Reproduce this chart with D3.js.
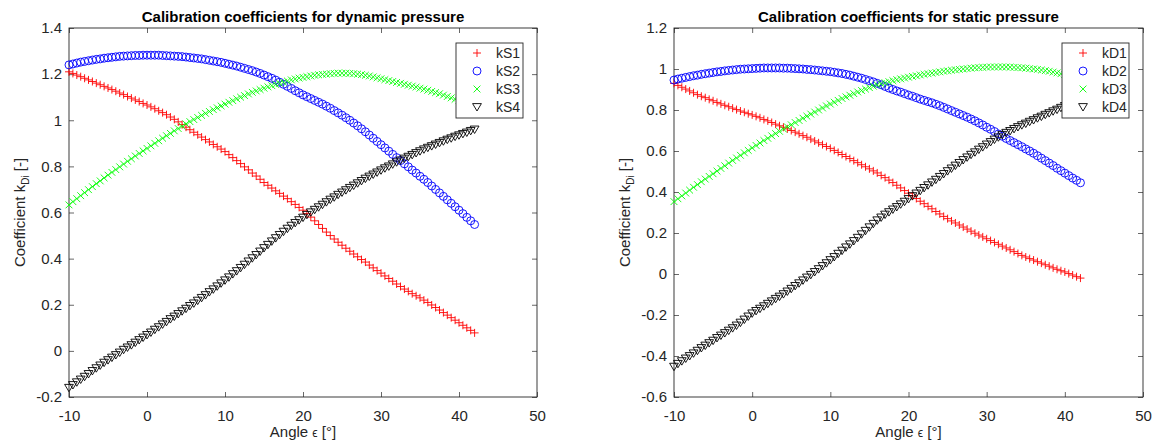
<!DOCTYPE html>
<html>
<head>
<meta charset="utf-8">
<script src="https://cdn.jsdelivr.net/npm/d3@7"></script>
<style>
  body { margin: 0; background: #fff; }
  text { font-family: "Liberation Sans", Arial, sans-serif; fill: #262626; }
</style>
</head>
<body>
<svg width="1156" height="448"></svg>
<script>
const width = 1156;
const height = 448;
const svg = d3.select("svg").attr("width", width).attr("height", height);

// measured angles [deg]
const angles = [
  -10, -9.5, -9, -8.5, -8, -7.5, -7, -6.5, -6, -5.5,
  -5, -4.5, -4, -3.5, -3, -2.5, -2, -1.5, -1, -0.5,
  0, 0.5, 1, 1.5, 2, 2.5, 3, 3.5, 4, 4.5,
  5, 5.5, 6, 6.5, 7, 7.5, 8, 8.5, 9, 9.5,
  10, 10.5, 11, 11.5, 12, 12.5, 13, 13.5, 14, 14.5,
  15, 15.5, 16, 16.5, 17, 17.5, 18, 18.5, 19, 19.5,
  20, 20.5, 21, 21.5, 22, 22.5, 23, 23.5, 24, 24.5,
  25, 25.5, 26, 26.5, 27, 27.5, 28, 28.5, 29, 29.5,
  30, 30.5, 31, 31.5, 32, 32.5, 33, 33.5, 34, 34.5,
  35, 35.5, 36, 36.5, 37, 37.5, 38, 38.5, 39, 39.5,
  40, 40.5, 41, 41.5, 42
];

// dynamic pressure coefficients
const kS1 = [
  1.210, 1.203, 1.196, 1.189, 1.182, 1.175, 1.168, 1.161, 1.154, 1.147,
  1.140, 1.133, 1.126, 1.118, 1.111, 1.103, 1.096, 1.088, 1.081, 1.073,
  1.066, 1.058, 1.050, 1.041, 1.033, 1.024, 1.014, 1.004, 0.993, 0.981,
  0.970, 0.959, 0.948, 0.937, 0.927, 0.916, 0.906, 0.895, 0.885, 0.875,
  0.864, 0.851, 0.838, 0.825, 0.812, 0.798, 0.785, 0.771, 0.758, 0.744,
  0.730, 0.718, 0.706, 0.694, 0.683, 0.671, 0.660, 0.647, 0.635, 0.622,
  0.610, 0.595, 0.580, 0.564, 0.548, 0.531, 0.515, 0.500, 0.485, 0.471,
  0.458, 0.445, 0.432, 0.420, 0.408, 0.396, 0.385, 0.372, 0.360, 0.348,
  0.337, 0.325, 0.314, 0.302, 0.290, 0.279, 0.268, 0.258, 0.248, 0.239,
  0.230, 0.220, 0.210, 0.199, 0.188, 0.177, 0.166, 0.155, 0.144, 0.133,
  0.122, 0.111, 0.100, 0.089, 0.078
];
const kS2 = [
  1.240, 1.244, 1.248, 1.252, 1.255, 1.258, 1.261, 1.264, 1.266, 1.269,
  1.271, 1.273, 1.275, 1.277, 1.278, 1.279, 1.280, 1.281, 1.281, 1.282,
  1.282, 1.282, 1.282, 1.282, 1.281, 1.280, 1.279, 1.278, 1.277, 1.276,
  1.274, 1.272, 1.270, 1.268, 1.266, 1.263, 1.260, 1.257, 1.254, 1.251,
  1.247, 1.243, 1.239, 1.235, 1.230, 1.225, 1.220, 1.215, 1.209, 1.203,
  1.196, 1.189, 1.182, 1.174, 1.165, 1.156, 1.147, 1.138, 1.128, 1.119,
  1.110, 1.102, 1.094, 1.086, 1.078, 1.070, 1.061, 1.052, 1.042, 1.032,
  1.022, 1.011, 1.000, 0.988, 0.976, 0.963, 0.950, 0.936, 0.922, 0.908,
  0.894, 0.880, 0.866, 0.852, 0.838, 0.825, 0.811, 0.798, 0.784, 0.771,
  0.757, 0.744, 0.730, 0.715, 0.700, 0.685, 0.670, 0.655, 0.640, 0.625,
  0.610, 0.595, 0.579, 0.564, 0.548
];
const kS3 = [
  0.633, 0.647, 0.660, 0.673, 0.686, 0.699, 0.712, 0.725, 0.737, 0.750,
  0.762, 0.774, 0.786, 0.798, 0.810, 0.822, 0.833, 0.845, 0.856, 0.867,
  0.878, 0.889, 0.900, 0.911, 0.922, 0.933, 0.943, 0.954, 0.964, 0.974,
  0.984, 0.994, 1.003, 1.012, 1.021, 1.030, 1.038, 1.046, 1.054, 1.062,
  1.070, 1.078, 1.085, 1.093, 1.100, 1.107, 1.114, 1.121, 1.127, 1.133,
  1.139, 1.145, 1.150, 1.155, 1.160, 1.165, 1.170, 1.175, 1.179, 1.183,
  1.186, 1.189, 1.192, 1.195, 1.197, 1.199, 1.200, 1.202, 1.203, 1.204,
  1.204, 1.204, 1.203, 1.202, 1.200, 1.198, 1.195, 1.192, 1.188, 1.184,
  1.180, 1.176, 1.172, 1.168, 1.164, 1.160, 1.156, 1.152, 1.148, 1.144,
  1.139, 1.135, 1.130, 1.125, 1.120, 1.115, 1.109, 1.103, 1.097, 1.091,
  1.085, 1.079, 1.073, 1.067, 1.060
];
const kS4 = [
  -0.160, -0.148, -0.136, -0.124, -0.112, -0.100, -0.087, -0.075, -0.063, -0.051,
  -0.040, -0.029, -0.018, -0.007, 0.005, 0.015, 0.025, 0.036, 0.047, 0.058,
  0.069, 0.080, 0.092, 0.103, 0.115, 0.126, 0.138, 0.149, 0.160, 0.172,
  0.183, 0.195, 0.206, 0.218, 0.230, 0.242, 0.255, 0.267, 0.280, 0.293,
  0.306, 0.319, 0.333, 0.346, 0.360, 0.374, 0.388, 0.402, 0.416, 0.431,
  0.446, 0.460, 0.475, 0.489, 0.503, 0.517, 0.530, 0.543, 0.555, 0.567,
  0.578, 0.590, 0.601, 0.612, 0.623, 0.634, 0.645, 0.656, 0.666, 0.677,
  0.687, 0.697, 0.707, 0.717, 0.727, 0.737, 0.747, 0.756, 0.765, 0.774,
  0.783, 0.792, 0.800, 0.809, 0.818, 0.826, 0.834, 0.842, 0.850, 0.858,
  0.866, 0.874, 0.881, 0.888, 0.895, 0.902, 0.909, 0.916, 0.922, 0.929,
  0.935, 0.941, 0.947, 0.954, 0.960
];

// static pressure coefficients
const kD1 = [
  0.930, 0.920, 0.911, 0.902, 0.893, 0.884, 0.875, 0.867, 0.860, 0.852,
  0.845, 0.837, 0.830, 0.823, 0.816, 0.809, 0.802, 0.795, 0.789, 0.782,
  0.776, 0.769, 0.762, 0.754, 0.747, 0.739, 0.731, 0.723, 0.716, 0.708,
  0.700, 0.692, 0.684, 0.675, 0.667, 0.658, 0.649, 0.640, 0.631, 0.622,
  0.613, 0.603, 0.593, 0.583, 0.573, 0.563, 0.553, 0.543, 0.533, 0.523,
  0.513, 0.503, 0.493, 0.481, 0.470, 0.458, 0.446, 0.433, 0.420, 0.407,
  0.394, 0.381, 0.368, 0.355, 0.343, 0.330, 0.318, 0.305, 0.293, 0.281,
  0.270, 0.259, 0.249, 0.239, 0.229, 0.219, 0.209, 0.199, 0.190, 0.181,
  0.172, 0.163, 0.154, 0.145, 0.136, 0.127, 0.118, 0.109, 0.100, 0.091,
  0.083, 0.075, 0.068, 0.060, 0.053, 0.045, 0.038, 0.030, 0.023, 0.016,
  0.010, 0.002, -0.005, -0.013, -0.020
];
const kD2 = [
  0.946, 0.951, 0.955, 0.959, 0.963, 0.967, 0.970, 0.974, 0.977, 0.980,
  0.983, 0.986, 0.988, 0.991, 0.993, 0.995, 0.997, 0.999, 1.000, 1.001,
  1.002, 1.003, 1.004, 1.005, 1.005, 1.005, 1.005, 1.005, 1.004, 1.004,
  1.003, 1.002, 1.001, 1.000, 0.998, 0.997, 0.995, 0.993, 0.991, 0.989,
  0.987, 0.984, 0.981, 0.978, 0.974, 0.970, 0.965, 0.960, 0.955, 0.949,
  0.943, 0.937, 0.930, 0.923, 0.915, 0.907, 0.900, 0.893, 0.887, 0.880,
  0.873, 0.867, 0.860, 0.853, 0.847, 0.841, 0.835, 0.828, 0.821, 0.813,
  0.805, 0.797, 0.789, 0.781, 0.773, 0.765, 0.756, 0.747, 0.737, 0.727,
  0.716, 0.706, 0.695, 0.683, 0.672, 0.661, 0.651, 0.641, 0.631, 0.621,
  0.610, 0.600, 0.589, 0.577, 0.565, 0.553, 0.541, 0.529, 0.516, 0.504,
  0.492, 0.480, 0.468, 0.457, 0.445
];
const kD3 = [
  0.353, 0.367, 0.381, 0.395, 0.409, 0.423, 0.436, 0.450, 0.463, 0.476,
  0.489, 0.502, 0.515, 0.528, 0.541, 0.554, 0.566, 0.579, 0.591, 0.603,
  0.615, 0.627, 0.639, 0.651, 0.662, 0.674, 0.685, 0.696, 0.707, 0.718,
  0.728, 0.739, 0.749, 0.760, 0.770, 0.780, 0.790, 0.800, 0.810, 0.820,
  0.829, 0.838, 0.847, 0.856, 0.864, 0.872, 0.880, 0.888, 0.895, 0.902,
  0.909, 0.916, 0.922, 0.928, 0.933, 0.938, 0.943, 0.948, 0.952, 0.956,
  0.960, 0.964, 0.967, 0.971, 0.974, 0.977, 0.980, 0.983, 0.986, 0.989,
  0.991, 0.994, 0.996, 0.998, 1.000, 1.002, 1.004, 1.006, 1.007, 1.008,
  1.009, 1.010, 1.010, 1.010, 1.010, 1.010, 1.009, 1.008, 1.007, 1.006,
  1.004, 1.002, 1.000, 0.998, 0.995, 0.992, 0.989, 0.985, 0.981, 0.977,
  0.973, 0.970, 0.966, 0.963, 0.960
];
const kD4 = [
  -0.452, -0.438, -0.425, -0.412, -0.400, -0.387, -0.374, -0.361, -0.349, -0.337,
  -0.325, -0.312, -0.300, -0.288, -0.276, -0.264, -0.251, -0.237, -0.222, -0.207,
  -0.192, -0.180, -0.169, -0.157, -0.145, -0.133, -0.121, -0.110, -0.098, -0.085,
  -0.072, -0.058, -0.045, -0.031, -0.017, -0.004, 0.010, 0.024, 0.039, 0.053,
  0.068, 0.083, 0.099, 0.114, 0.130, 0.145, 0.161, 0.177, 0.194, 0.211,
  0.228, 0.245, 0.262, 0.276, 0.290, 0.302, 0.315, 0.327, 0.340, 0.353,
  0.366, 0.380, 0.393, 0.406, 0.420, 0.433, 0.447, 0.460, 0.474, 0.488,
  0.502, 0.515, 0.529, 0.542, 0.556, 0.569, 0.582, 0.594, 0.607, 0.619,
  0.632, 0.644, 0.656, 0.667, 0.679, 0.689, 0.698, 0.708, 0.717, 0.726,
  0.734, 0.743, 0.751, 0.760, 0.768, 0.777, 0.785, 0.794, 0.802, 0.811,
  0.820, 0.829, 0.838, 0.846, 0.855
];

const xTicks = [-10, 0, 10, 20, 30, 40, 50];
const yTicksDynamic = [-0.2, 0, 0.2, 0.4, 0.6, 0.8, 1, 1.2, 1.4];
const yTicksStatic = [-0.6, -0.4, -0.2, 0, 0.2, 0.4, 0.6, 0.8, 1, 1.2];
const titles = ["Calibration coefficients for dynamic pressure", "Calibration coefficients for static pressure"];
const namesS = ["kS1", "kS2", "kS3", "kS4"];
const namesD = ["kD1", "kD2", "kD3", "kD4"];

const markers = [
  { type: "plus", color: "#ff0000" },
  { type: "circle", color: "#0000ff" },
  { type: "cross", color: "#00ff00" },
  { type: "tri", color: "#000000" }
];
const markerPath = {
  plus: "M-4,0H4M0,-4V4",
  cross: "M-3.4,-3.4L3.4,3.4M-3.4,3.4L3.4,-3.4",
  tri: "M-4.4,-3.4H4.4L0,4Z"
};

function drawMarker(sel, m) {
  if (m.type === "circle") {
    sel.append("circle").attr("r", 4);
  } else {
    sel.append("path").attr("d", markerPath[m.type]);
  }
  sel.attr("fill", "none").attr("stroke", m.color).attr("stroke-width", 0.9);
}

const plotTop = 28, plotBottom = 397;
const panels = [
  { left: 69, right: 537, domain: [-0.2, 1.4], yTicks: yTicksDynamic, title: titles[0],
    series: [kS1, kS2, kS3, kS4], names: namesS },
  { left: 674, right: 1143, domain: [-0.6, 1.2], yTicks: yTicksStatic, title: titles[1],
    series: [kD1, kD2, kD3, kD4], names: namesD }
];

const fmt = d => String(+d.toFixed(1));

panels.forEach(p => {
  const x = d3.scaleLinear().domain([-10, 50]).range([p.left, p.right]);
  const y = d3.scaleLinear().domain(p.domain).range([plotBottom, plotTop]);
  const g = svg.append("g");

  // axes with inward ticks on all four sides
  const styleAxis = a => {
    a.select(".domain").remove();
    a.selectAll("line").attr("stroke", "#262626").attr("stroke-width", 0.7);
    a.selectAll("text").attr("font-size", 15).attr("fill", "#262626")
      .style("font-family", "'Liberation Sans', Arial, sans-serif");
  };
  g.append("g").attr("transform", `translate(0,${plotBottom})`)
    .call(d3.axisBottom(x).tickValues(xTicks).tickFormat(fmt).tickSizeInner(-5).tickSizeOuter(0).tickPadding(13))
    .call(styleAxis);
  g.append("g").attr("transform", `translate(0,${plotTop})`)
    .call(d3.axisTop(x).tickValues(xTicks).tickFormat("").tickSizeInner(-5).tickSizeOuter(0))
    .call(styleAxis);
  g.append("g").attr("transform", `translate(${p.left},0)`)
    .call(d3.axisLeft(y).tickValues(p.yTicks).tickFormat(fmt).tickSizeInner(-5).tickSizeOuter(0).tickPadding(7))
    .call(styleAxis);
  g.append("g").attr("transform", `translate(${p.right},0)`)
    .call(d3.axisRight(y).tickValues(p.yTicks).tickFormat("").tickSizeInner(-5).tickSizeOuter(0))
    .call(styleAxis);

  g.append("rect")
    .attr("x", p.left).attr("y", plotTop)
    .attr("width", p.right - p.left).attr("height", plotBottom - plotTop)
    .attr("fill", "none").attr("stroke", "#262626").attr("stroke-width", 0.9);

  // series markers
  p.series.forEach((vals, si) => {
    const m = markers[si];
    g.append("g").selectAll("g")
      .data(angles.map((a, i) => [a, vals[i]]))
      .join("g")
      .attr("transform", d => `translate(${x(d[0])},${y(d[1])})`)
      .each(function () { drawMarker(d3.select(this), m); });
  });

  // title
  g.append("text")
    .attr("x", (p.left + p.right) / 2).attr("y", 22)
    .attr("text-anchor", "middle").attr("font-size", 15).attr("font-weight", "bold")
    .style("fill", "#000")
    .text(p.title);

  // x label
  const xl = g.append("text")
    .attr("x", (p.left + p.right) / 2).attr("y", 437)
    .attr("text-anchor", "middle").attr("font-size", 15);
  xl.append("tspan").text("Angle ");
  xl.append("tspan").attr("font-size", 12).text("ϵ");
  xl.append("tspan").text(" [°]");

  // y label
  const yl = g.append("text")
    .attr("transform", `translate(${p.left - 44},${(plotTop + plotBottom) / 2}) rotate(-90)`)
    .attr("text-anchor", "middle").attr("font-size", 15);
  yl.append("tspan").text("Coefficient k");
  yl.append("tspan").attr("font-size", 10).attr("dy", 4).text("Di");
  yl.append("tspan").attr("dy", -4).text(" [-]");

  // legend
  const lx = p.right - 81, ly = 43, lw = 67, lh = 75;
  const lg = g.append("g");
  lg.append("rect")
    .attr("x", lx).attr("y", ly).attr("width", lw).attr("height", lh)
    .attr("fill", "#fff").attr("stroke", "#262626").attr("stroke-width", 0.9);
  p.names.forEach((name, i) => {
    const ry = ly + 10 + i * 18;
    const mk = lg.append("g").attr("transform", `translate(${lx + 21},${ry})`);
    drawMarker(mk, markers[i]);
    lg.append("text")
      .attr("x", lx + 40).attr("y", ry).attr("dy", "0.36em")
      .attr("font-size", 14).text(name);
  });
});
</script>
</body>
</html>
